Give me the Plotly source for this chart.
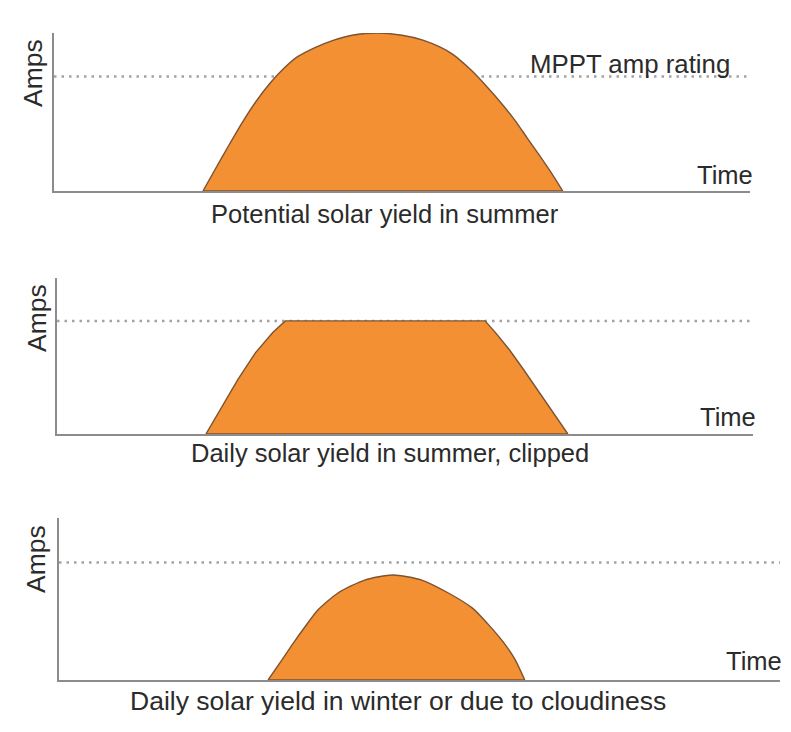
import plotly.graph_objects as go

# ---------------- data (arbitrary units 0-100) ----------------
mppt_rating = 72.5

summer_time = [21.4, 23.0, 25.0, 27.0, 29.0, 31.0, 33.0, 35.0, 37.5, 40.0, 43.0, 46.4,
               50.0, 53.0, 55.5, 57.3, 60.0, 62.2, 64.0, 66.2, 68.0, 69.5, 71.5, 73.1]
summer_amps = [0.0, 12.5, 28.0, 43.0, 56.5, 68.0, 77.5, 85.0, 90.8, 95.2, 98.7, 100.0,
               98.6, 95.5, 91.0, 86.5, 76.2, 66.0, 57.0, 44.9, 33.5, 24.1, 11.2, 0.0]

clipped_time = [21.4, 23.5, 26.0, 28.5, 31.0, 32.8, 61.5, 63.0, 65.0, 67.0, 69.0, 71.2, 73.4]
clipped_amps = [0.0, 16.0, 35.0, 52.0, 65.0, 72.5, 72.5, 65.0, 54.0, 41.5, 28.5, 14.0, 0.0]

winter_time = [29.0, 30.9, 32.5, 34.1, 35.9, 38.7, 42.4, 46.3, 50.3, 54.0, 57.3, 59.5, 61.6, 63.2, 64.6]
winter_amps = [0.0, 12.3, 22.8, 32.7, 43.2, 53.7, 61.7, 64.8, 61.7, 53.7, 44.5, 34.5, 23.5, 13.0, 0.0]

time_range = [0, 100]
amps_range = [0, 100]

titles = [
    "Potential solar yield in summer",
    "Daily solar yield in summer, clipped",
    "Daily solar yield in winter or due to cloudiness",
]
y_label = "Amps"
x_label = "Time"
rating_label = "MPPT amp rating"

# ---------------- styling ----------------
W, H = 791, 732
FILL = "#F39033"
EDGE = "#7d5330"
AXIS = "#8c8c8c"
DOTS = "#a3a3a3"
TXT = "#2b2b2b"
FONT = "Liberation Sans"

# panel pixel boxes: (left, right, top, bottom)
boxes = [
    (54, 750, 33, 191),
    (57, 753, 278, 434),
    (59, 780, 518, 680),
]

fig = go.Figure()

series = [
    (summer_time, summer_amps, "spline"),
    (clipped_time, clipped_amps, "linear"),
    (winter_time, winter_amps, "spline"),
]

for i, ((t, a, shape), (l, r, tp, bt)) in enumerate(zip(series, boxes)):
    xa = "x" if i == 0 else f"x{i+1}"
    ya = "y" if i == 0 else f"y{i+1}"
    # rating dotted line
    fig.add_trace(go.Scatter(
        x=time_range, y=[mppt_rating, mppt_rating], mode="lines",
        line=dict(color=DOTS, width=2.5, dash="2.5px,5px"),
        xaxis=xa, yaxis=ya, hoverinfo="skip", showlegend=False))
    # filled yield curve
    fig.add_trace(go.Scatter(
        x=t, y=a, mode="lines", fill="tozeroy", fillcolor=FILL,
        line=dict(color=EDGE, width=1.4, shape=shape, smoothing=0.7),
        xaxis=xa, yaxis=ya, showlegend=False))
    # base edge of the shape
    fig.add_trace(go.Scatter(
        x=[t[0], t[-1]], y=[a[0], a[-1]], mode="lines",
        line=dict(color=EDGE, width=1.6),
        xaxis=xa, yaxis=ya, hoverinfo="skip", showlegend=False))

    axis_common = dict(showgrid=False, zeroline=False, showticklabels=False,
                       ticks="", showline=True, linecolor=AXIS, fixedrange=True)
    xkey = "xaxis" if i == 0 else f"xaxis{i+1}"
    ykey = "yaxis" if i == 0 else f"yaxis{i+1}"
    fig.update_layout({
        xkey: dict(domain=[l / W, r / W], range=time_range, anchor=ya,
                   linewidth=2.2, **axis_common),
        ykey: dict(domain=[1 - bt / H, 1 - tp / H], range=amps_range, anchor=xa,
                   linewidth=1.8, **axis_common),
    })

# ---------------- text ----------------
def add_text(txt, px, py, angle=0, size=25):
    fig.add_annotation(text=txt, x=px / W, y=1 - py / H, xref="paper", yref="paper",
                       xanchor="center", yanchor="middle", showarrow=False,
                       textangle=angle, font=dict(family=FONT, size=size, color=TXT))

title_pos = [(385, 214), (390, 453), (398, 701)]
title_size = [25.5, 25.5, 26.5]
amps_pos = [(33, 73), (37, 318), (36, 559)]
time_pos = [(725, 175), (728, 417), (754, 661)]

for k in range(3):
    add_text(titles[k], *title_pos[k], size=title_size[k])
    add_text(y_label, *amps_pos[k], angle=-90, size=26.5)
    add_text(x_label, *time_pos[k], size=25.5)

add_text(rating_label, 630, 64, size=25.8)

fig.update_layout(width=W, height=H, margin=dict(l=0, r=0, t=0, b=0),
                  paper_bgcolor="white", plot_bgcolor="white", showlegend=False)

fig.write_html("out.html", config={"displayModeBar": False},
               post_script="document.body.style.margin='0';document.body.style.overflow='hidden';")
